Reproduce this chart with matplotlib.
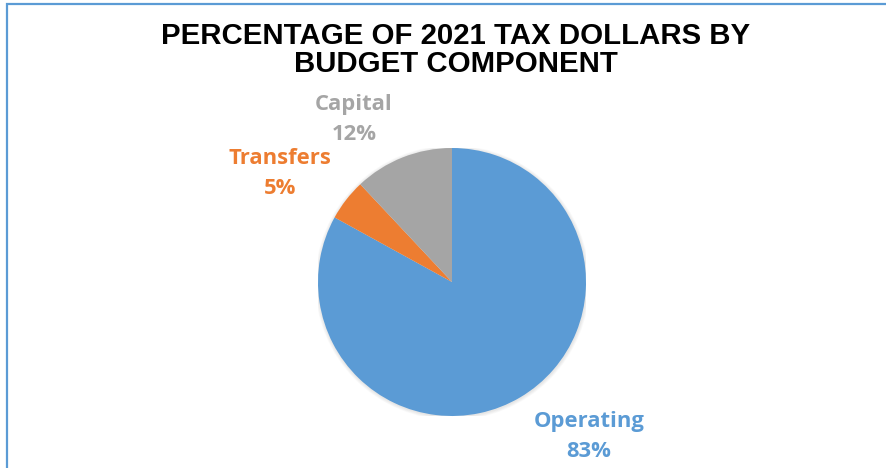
import matplotlib
matplotlib.use('agg')
import matplotlib.pyplot as plt
from matplotlib.patches import Circle, Rectangle

# budget share by component
components = ['Operating', 'Transfers', 'Capital']
shares = [83, 5, 12]
colors = ['#5B9BD5', '#ED7D31', '#A5A5A5']
title = 'PERCENTAGE OF 2021 TAX DOLLARS BY\nBUDGET COMPONENT'

W, H = 886, 468
fig = plt.figure(figsize=(W/100, H/100), dpi=100)
fig.patch.set_facecolor('white')

# chart border (right/bottom edges fall outside the canvas)
fig.patches.append(Rectangle((7/W, -0.1), 1.2, 1.1 - 4.5/H, transform=fig.transFigure,
                             fill=False, edgecolor='#5B9BD5', linewidth=1.6))

fig.text(456/W, 1 - 50/H, title, ha='center', va='center', fontsize=21.2,
         fontweight='bold', family='Liberation Sans', linespacing=1.02)

cx, cy, r = 452, 282, 134
ax = fig.add_axes([(cx - r)/W, (H - cy - r)/H, 2*r/W, 2*r/H])

# soft edge shadow
for k in range(5):
    ax.add_patch(Circle((0.003, -0.005), 1 + 0.005*(k+1), color='black',
                        alpha=0.02, lw=0, zorder=0))

ax.pie(shares, colors=colors, startangle=90, counterclock=False, radius=1,
       wedgeprops=dict(linewidth=0), frame=True)
ax.set_xlim(-1, 1)
ax.set_ylim(-1, 1)
ax.set_aspect('equal')
ax.axis('off')

# label positions in pixels (center of two-line block)
label_pos = {'Operating': (589, 436.5), 'Transfers': (280, 173.5), 'Capital': (354, 119.5)}
for name, val, c in zip(components, shares, colors):
    x, y = label_pos[name]
    fig.text(x/W, 1 - y/H, f'{name}\n{val}%', ha='center', va='center', color=c,
             fontsize=15.8, fontweight='bold', family='Open Sans', linespacing=1.62)

fig.savefig('out.png', dpi=100)
